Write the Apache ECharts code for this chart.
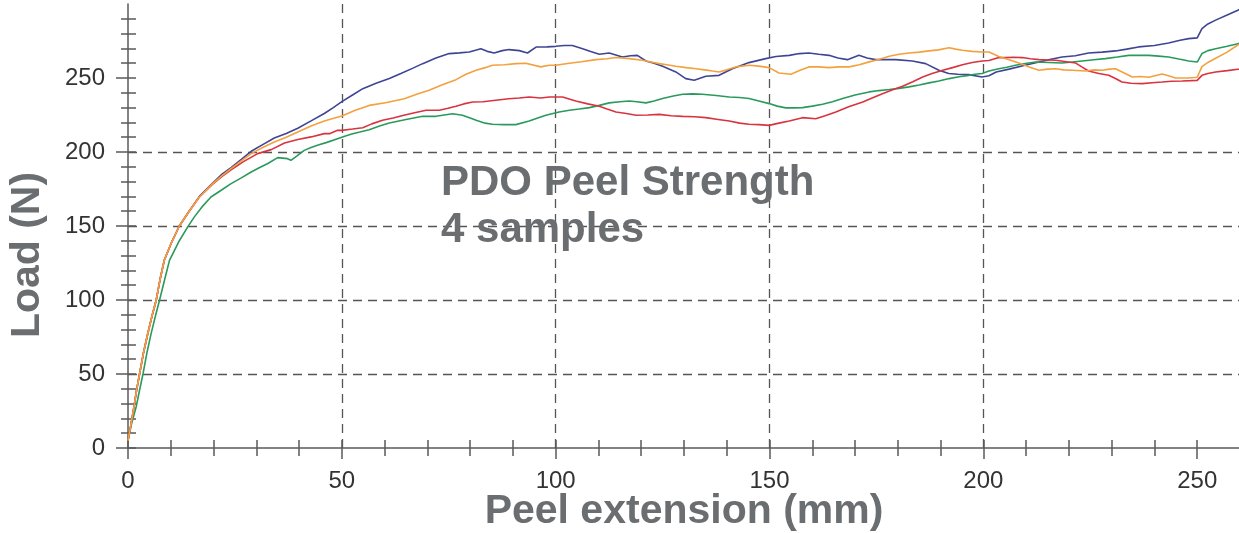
<!DOCTYPE html>
<html>
<head>
<meta charset="utf-8">
<title>PDO Peel Strength</title>
<script src="https://cdn.jsdelivr.net/npm/echarts@6/dist/echarts.min.js"></script>
<style>
  html, body { margin: 0; padding: 0; background: #ffffff; }
  #chart { width: 1239px; height: 533px; }
</style>
</head>
<body>
<div id="chart"></div>
<script>
// Peel test curves: [extension (mm), load (N)] for each of the four samples
const sample1 = [[0,5],[0.7,16],[1.4,28],[2.0,39],[2.7,50],[3.6,64],[4.6,77],[5.6,89],[6.6,100],[7.5,114],[8.5,127],[10.2,139],[12,150],[14.3,160],[16.7,170],[19.8,179],[22,185],[24.1,189.5],[26.5,195],[28.8,200.5],[31.5,205],[34.2,209.5],[37,212.5],[39.7,216],[42.8,221],[45.9,226],[48,230],[50,234],[52.5,238.5],[54.9,242.8],[58,246.5],[61.1,249.6],[63.8,253],[66.5,256.5],[68.9,259.7],[72,263.5],[75.1,266.5],[77.5,267],[79.8,267.6],[82.5,269.8],[84,268],[85.6,266.9],[87.5,268.5],[89.1,269.2],[91.5,268.5],[93.4,266.9],[95.4,270.9],[98,271],[100,271.4],[102,272],[103.9,272],[106.3,269.8],[108,268],[110.2,266],[112.5,266.9],[115.6,264.2],[117.5,265],[119.1,265.3],[121.1,261.5],[123,260],[125,257.9],[128.1,254.1],[130.4,249.6],[132.4,248.5],[135.1,251.2],[138.2,251.8],[141.3,256.3],[145.2,260.4],[149.1,263.1],[151.5,264.5],[154.6,265.3],[157,266.5],[159.2,266.9],[161.5,266],[163.9,265.3],[166,263.5],[168.2,262.4],[170.9,265.3],[172.8,263.5],[174.8,262.4],[179.5,262.4],[183.4,261.5],[186.5,259.7],[189.6,255.2],[191.9,253],[194,252.5],[196.6,252.3],[199.7,250.7],[201.3,251.5],[203,254],[206,256],[209.5,258.5],[213,260.8],[215.5,262.5],[218.4,264.2],[221.5,265],[224.6,266.9],[227.8,267.5],[230.9,268.3],[233.5,269.5],[236.3,271],[240,272],[243.3,273.7],[246,275.5],[248,276.6],[250,277.1],[251.1,283.4],[252.5,286.5],[254.3,289.1],[257,292.5],[259.5,295.8],[260,296.5]];

const sample2 = [[0,5],[0.7,16],[1.4,28],[2.0,39],[2.7,50],[3.6,64],[4.6,77],[5.6,89],[6.6,100],[7.5,114],[8.5,127],[10.2,139],[12,150],[14.3,160],[16.7,169.6],[19.8,178.6],[22,184],[24.1,188.8],[26.5,194],[28.8,198.9],[31.5,203],[34.2,206.8],[37,210],[39.7,213.5],[42.8,217.5],[45.9,220.9],[47.1,221.9],[50,224.3],[53,228],[56.4,231.5],[60.5,233.5],[64.6,236],[67.5,239],[70.4,241.7],[73.5,245.5],[76.7,248.9],[79,252.5],[81.4,255.2],[83.5,257],[85.2,258.6],[88,259],[90.7,259.7],[93,260],[96.5,257.5],[98.5,258.6],[100,258.6],[103.2,260],[106,261],[109.4,262.4],[112,263],[114.1,263.8],[117.2,263.1],[120.3,262],[122,261],[124.2,259.7],[126,259],[128.1,257.9],[130.5,257],[132.8,256.3],[134.8,255.5],[136.7,254.7],[138.2,254.1],[140,255.5],[142.1,257.5],[145.2,258.6],[147.5,258],[149.9,257],[152.2,253.4],[155,252.5],[157,255],[159.2,257.5],[161.5,257.5],[163.9,257],[166.3,257.5],[168.6,257.5],[171,259],[173.3,260.9],[175.5,262.5],[178,264.7],[180.3,266],[182.6,266.9],[185,267.5],[187.3,268.3],[189.5,269],[192,270.5],[193.5,269.5],[195.1,268.7],[197.4,268],[199.7,267.6],[201.3,267.6],[203.6,264.5],[206,262.4],[208.3,260.1],[210.7,257.5],[213,255.2],[215,256],[216.9,256.3],[218.8,255.5],[220.8,255.2],[223.9,254.7],[225.9,255.5],[227.8,255.2],[229.5,256],[230.9,256.3],[232.8,253.5],[234.8,250.7],[236.8,251],[238.7,250.5],[241.8,252.7],[243.3,251.5],[244.9,250],[248,250],[250,250.5],[251.1,257.7],[252.5,260.5],[254.3,263.3],[257,267.5],[259.5,272.3],[260,273]];

const sample3 = [[0,5],[0.7,16],[1.4,28],[2.0,39],[2.7,50],[3.6,64],[4.6,77],[5.6,89],[6.6,100],[7.5,114],[8.5,127],[10.2,139],[12,150],[14.3,160],[16.7,169.6],[19.8,178.3],[22,183.5],[24.1,188],[27,193.5],[30.3,198.9],[33.5,201.6],[36.6,206.1],[39.7,208.4],[42.8,210.2],[45.9,212.4],[47.1,212.4],[49,214.7],[50,214.6],[52.5,215.5],[54.9,216.4],[57,219],[59.5,221.4],[62,223],[64.5,224.8],[67,226.5],[69.7,228.2],[72.8,228.2],[74.8,229.5],[76.7,230.9],[78.5,232.5],[80.6,233.8],[83,234],[86,235],[89,236],[91.5,236.5],[93.8,237.2],[96.5,236.5],[98.5,237.2],[101.6,237.2],[104.7,234.5],[107.5,232.5],[110.2,230.9],[112,229],[114.1,227],[116.5,226],[118.8,224.8],[121.5,225],[124.2,225.4],[127,224.5],[129.7,224.1],[132.5,223.8],[135.1,223.2],[138,222],[140.6,220.9],[143,219.5],[145.2,218.7],[147.5,218.5],[149.9,218],[152.2,219.5],[154.6,220.9],[157.7,223.2],[160.8,222.5],[163,224.5],[165.5,227],[168.5,230.5],[171.8,233.8],[174,236.5],[176.4,239.4],[178.8,242],[181.1,244.4],[183.5,247.5],[185.8,250.7],[188,253],[190.5,255.2],[192.8,257],[195.1,259],[197.4,260.5],[199.7,261.5],[201.3,261.8],[203.6,263.8],[205.2,263.8],[207,264],[209.1,263.8],[211,263],[213,262.4],[215,262.2],[216.9,262],[219,261.2],[221.6,260.1],[223,257.5],[224.6,254.7],[227,253],[229.3,251.8],[231,249.5],[232.4,247.3],[234.5,246.5],[237.1,246.2],[239.5,246.8],[241.8,247.3],[244,247.8],[246.5,248],[248.5,248.2],[250,248.4],[251.1,251.8],[252.5,253],[254.3,254.1],[257,255],[259.5,255.9],[260,256]];

const sample4 = [[0,5],[0.8,16],[1.9,27.7],[2.7,39],[3.5,50],[4.4,64],[5.4,77.3],[6.4,89],[7.4,100.2],[8.5,113],[9.7,126.8],[11.8,139],[14,149.6],[15.6,156.5],[17.3,162.9],[19.4,169.6],[21.7,174],[24.1,178.6],[26.5,182.5],[28.8,186.5],[30.8,189.5],[32.7,192.2],[35,196.2],[37.3,195.5],[38.1,194.4],[39.6,197.5],[41.2,201.1],[42.8,203],[44.3,204.5],[46.5,206.5],[49,209],[50.5,210.5],[52.1,212],[54.2,213.5],[56.4,215.1],[58.8,217.5],[61.1,219.6],[65,222],[68.9,224.1],[72,224.1],[75.9,225.9],[78.2,224.8],[80,223],[81.4,221.4],[83.5,219.5],[85.2,218.7],[88,218.5],[90.7,218.5],[93.8,220.9],[95.8,223],[97.7,224.8],[100.8,227],[103.2,228.2],[105.5,229],[107.9,230],[110.2,231.5],[112.5,233.2],[115,234],[117.2,234.5],[119,234],[121.1,233.2],[123,234.5],[125,236.1],[127.5,237.8],[129.7,239],[132,239.3],[134.3,239],[137.5,238.2],[140.6,237.2],[143,236.8],[145.2,236.1],[147.5,234.5],[149.9,232.7],[151.8,231],[153.8,229.8],[155.8,229.8],[157.7,230],[160,231],[162.4,232.3],[164.7,234],[167.1,236.1],[170,238.5],[173.3,240.6],[175.6,241.5],[178,242.2],[180.3,243],[182.6,244],[185,245.3],[187.3,246.7],[189.6,248],[192,249.6],[194.3,250.8],[196.6,251.8],[198,252.5],[199.7,253],[201.3,254.7],[203.6,256.3],[205.5,257.3],[207.5,258.6],[209.8,259.8],[212.2,260.8],[215.3,260.5],[218.4,260.1],[220.8,260.8],[223.1,261.5],[225.8,262.3],[228.5,263.1],[231.3,264.2],[234,265.3],[236.3,265.3],[238.7,265.3],[241,264.8],[243.3,264.2],[245.7,262.8],[248,261.5],[250,260.8],[251.1,266.5],[252.5,268.5],[254.3,269.8],[257,271.5],[259.5,273.2],[260,273.5]];

// Tick positions
const xMajorTicks = [0, 50, 100, 150, 200, 250];
const xMinorTicks = [0, 10, 20, 30, 40, 50, 60, 70, 80, 90, 100, 110, 120, 130, 140, 150, 160, 170, 180, 190, 200, 210, 220, 230, 240, 250];
const yMajorTicks = [0, 50, 100, 150, 200, 250];
const yMinorTicks = [0, 10, 20, 30, 40, 50, 60, 70, 80, 90, 100, 110, 120, 130, 140, 150, 160, 170, 180, 190, 200, 210, 220, 230, 240, 250, 260, 270, 280, 290];

const FONT = "'Liberation Sans', Arial, Helvetica, sans-serif";
const AXIS_COLOR = '#5a5a5a';
const TITLE_COLOR = '#6b6e71';

const chart = echarts.init(document.getElementById('chart'), null, { renderer: 'canvas' });

// Shared scale settings so the helper axes line up with the main one
const xScale = { type: 'value', min: 0, max: 260, interval: 50, gridIndex: 0, position: 'bottom' };
const yScale = { type: 'value', min: 0, max: 300, interval: 50, gridIndex: 0, position: 'left' };
const noLine = { show: false };

const option = {
  animation: false,
  backgroundColor: '#ffffff',
  grid: { left: 128, top: 4, width: 1112, height: 444, containLabel: false, outerBoundsMode: 'none' },
  xAxis: [
    Object.assign({}, xScale, {
      name: 'Peel extension (mm)',
      nameLocation: 'middle',
      nameGap: 43,
      nameMoveOverlap: false,
      nameTextStyle: { fontFamily: FONT, fontSize: 41, fontWeight: 'bold', color: TITLE_COLOR },
      axisLine: { show: true, onZero: false, lineStyle: { color: AXIS_COLOR, width: 1.5 } },
      axisTick: { show: true, inside: false, length: 11, customValues: xMajorTicks, lineStyle: { color: AXIS_COLOR, width: 1.5 } },
      axisLabel: { show: true, margin: 21, customValues: xMajorTicks, fontFamily: FONT, fontSize: 24, color: '#333333' },
      splitLine: { show: true, showMinLine: false, showMaxLine: false, lineStyle: { color: '#555555', width: 1.3, type: [9, 6] } }
    }),
    Object.assign({}, xScale, {
      axisLine: noLine,
      axisTick: { show: true, inside: false, length: 8, customValues: xMinorTicks, lineStyle: { color: AXIS_COLOR, width: 1.5 } },
      axisLabel: { show: false },
      splitLine: { show: false }
    }),
    Object.assign({}, xScale, {
      axisLine: noLine,
      axisTick: { show: true, inside: true, length: 8, customValues: xMinorTicks, lineStyle: { color: AXIS_COLOR, width: 1.5 } },
      axisLabel: { show: false },
      splitLine: { show: false }
    })
  ],
  yAxis: [
    Object.assign({}, yScale, {
      name: 'Load (N)',
      nameLocation: 'middle',
      nameGap: 80,
      nameMoveOverlap: false,
      nameTextStyle: { fontFamily: FONT, fontSize: 41, fontWeight: 'bold', color: TITLE_COLOR, padding: [0, 58, 0, 0] },
      axisLine: { show: true, onZero: false, lineStyle: { color: AXIS_COLOR, width: 1.5 } },
      axisTick: { show: true, inside: false, length: 12, customValues: yMajorTicks, lineStyle: { color: AXIS_COLOR, width: 1.5 } },
      axisLabel: { show: true, margin: 23, customValues: yMajorTicks, fontFamily: FONT, fontSize: 24, color: '#333333' },
      splitLine: { show: true, showMinLine: false, showMaxLine: false, lineStyle: { color: '#555555', width: 1.3, type: [9, 6] } }
    }),
    Object.assign({}, yScale, {
      axisLine: noLine,
      axisTick: { show: true, inside: false, length: 7, customValues: yMinorTicks, lineStyle: { color: AXIS_COLOR, width: 1.5 } },
      axisLabel: { show: false },
      splitLine: { show: false }
    }),
    Object.assign({}, yScale, {
      axisLine: noLine,
      axisTick: { show: true, inside: true, length: 8, customValues: yMinorTicks, lineStyle: { color: AXIS_COLOR, width: 1.5 } },
      axisLabel: { show: false },
      splitLine: { show: false }
    })
  ],
  graphic: [
    {
      type: 'text',
      left: 441,
      top: 160,
      style: {
        text: 'PDO Peel Strength\n4 samples',
        font: "bold 42px 'Liberation Sans', Arial, sans-serif",
        fill: TITLE_COLOR,
        lineHeight: 47
      },
      z: 10
    }
  ],
  series: [
    { name: 'Sample 1', type: 'line', data: sample1, showSymbol: false, lineStyle: { color: '#3f4595', width: 1.6 }, itemStyle: { color: '#3f4595' } },
    { name: 'Sample 4', type: 'line', data: sample4, showSymbol: false, lineStyle: { color: '#2a9a5c', width: 1.6 }, itemStyle: { color: '#2a9a5c' } },
    { name: 'Sample 3', type: 'line', data: sample3, showSymbol: false, lineStyle: { color: '#d8343f', width: 1.6 }, itemStyle: { color: '#d8343f' } },
    { name: 'Sample 2', type: 'line', data: sample2, showSymbol: false, lineStyle: { color: '#f3a13e', width: 1.6 }, itemStyle: { color: '#f3a13e' } }
  ]
};

chart.setOption(option);
</script>
</body>
</html>
